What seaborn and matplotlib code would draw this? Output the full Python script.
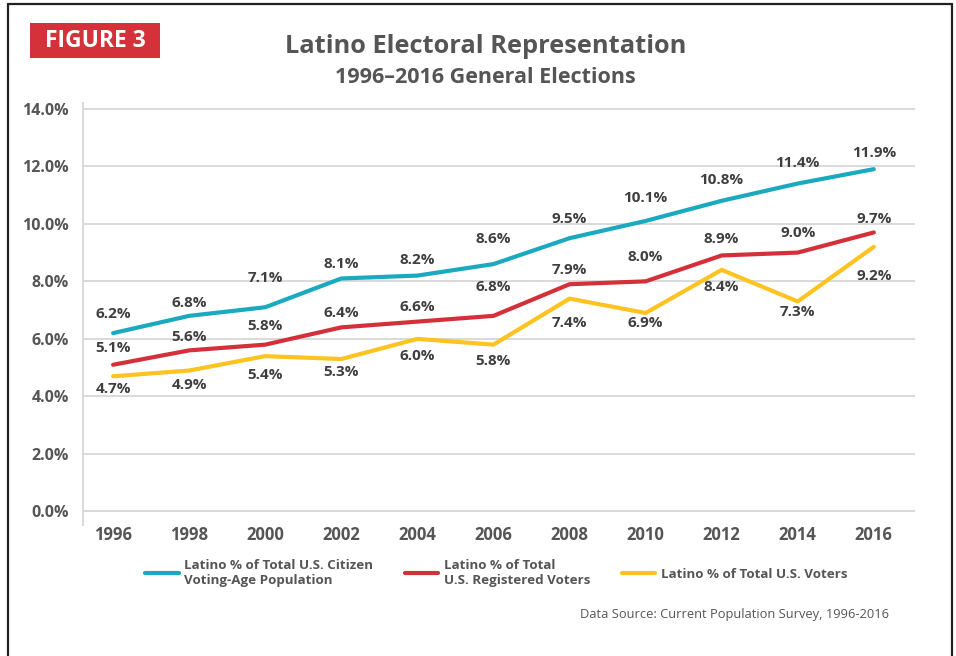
"""Latino electoral representation, 1996-2016 general elections."""

import matplotlib.pyplot as plt
import numpy as np
import pandas as pd
import seaborn as sns
from matplotlib.lines import Line2D
from matplotlib.patches import Rectangle

years = [1996, 1998, 2000, 2002, 2004, 2006, 2008, 2010, 2012, 2014, 2016]
cvap = [6.2, 6.8, 7.1, 8.1, 8.2, 8.6, 9.5, 10.1, 10.8, 11.4, 11.9]
registered = [5.1, 5.6, 5.8, 6.4, 6.6, 6.8, 7.9, 8.0, 8.9, 9.0, 9.7]
voters = [4.7, 4.9, 5.4, 5.3, 6.0, 5.8, 7.4, 6.9, 8.4, 7.3, 9.2]

series_names = [
    "Latino % of Total U.S. Citizen\nVoting-Age Population",
    "Latino % of Total\nU.S. Registered Voters",
    "Latino % of Total U.S. Voters",
]
y_ticks = [0, 2, 4, 6, 8, 10, 12, 14]

# label placement (pixels, + is above the point)
label_dy = [
    [19, 13, 29, 14, 16, 25, 19, 23, 21, 21, 16],
    [17, 13, 19, 14, 15, 29, 14, 24, 16, 20, 13],
    [-13, -14, -19, -13, -17, -16, -24, -10, -17, -11, -29],
]

colors = ["#1aa9be", "#d3303a", "#fdc320"]
grid_c = "#d9d9d9"
text_c = "#555555"
label_c = "#3e3e3e"

df = pd.DataFrame(
    {
        "year": years * 3,
        "value": cvap + registered + voters,
        "series": np.repeat(series_names, len(years)),
    }
)

sns.set_theme(style="white")
plt.rcParams["font.family"] = ["Open Sans", "DejaVu Sans"]

fig = plt.figure(figsize=(9.56, 6.56), dpi=100)
ax = fig.add_axes([0.0865, 0.1997, 0.8705, 0.6433])

sns.lineplot(
    data=df, x="year", y="value", hue="series", hue_order=series_names,
    palette=colors, linewidth=3.0, ax=ax, legend=False,
)

for vals, dys in zip([cvap, registered, voters], label_dy):
    for x, v, dy in zip(years, vals, dys):
        ax.annotate(
            f"{v:.1f}%", (x, v), xytext=(0, dy), textcoords="offset pixels",
            ha="center", va="center", fontsize=11, fontweight="bold", color=label_c,
        )

ax.set_xlim(1995.2, 2017.08)
ax.set_ylim(-0.47, 14.2)
ax.set_xticks(years)
ax.set_yticks(y_ticks)
ax.set_yticklabels([f"{t:.1f}%" for t in y_ticks])
ax.set_xlabel("")
ax.set_ylabel("")
ax.grid(axis="y", color=grid_c, linewidth=1.4)
ax.grid(axis="x", visible=False)
for side in ["top", "right", "bottom"]:
    ax.spines[side].set_visible(False)
ax.spines["left"].set_color(grid_c)
ax.spines["left"].set_linewidth(1.4)
ax.tick_params(axis="y", length=6.5, width=1.4, color=grid_c, pad=3.5,
               labelsize=11.5, labelcolor=text_c)
ax.tick_params(axis="x", length=0, pad=1, labelsize=12, labelcolor=text_c)
for lab in ax.get_yticklabels() + ax.get_xticklabels():
    lab.set_fontweight("bold")

handles = [Line2D([0], [0], color=c, linewidth=3.0) for c in colors]
fig.legend(
    handles, series_names, loc="center", bbox_to_anchor=(0.519, 0.127), ncol=3,
    frameon=False, handlelength=2.5, handletextpad=0.4, columnspacing=2.4,
    prop={"size": 9.6, "weight": "bold"}, labelcolor=text_c,
)

# titles and badge
fig.text(0.508, 0.929, "Latino Electoral Representation", ha="center", va="center",
         fontsize=18.3, fontweight="bold", color=text_c)
fig.text(0.508, 0.882, "1996\u20132016 General Elections", ha="center", va="center",
         fontsize=15.5, fontweight="bold", color=text_c)
fig.patches.append(Rectangle((0.0314, 0.9116), 0.136, 0.0534, transform=fig.transFigure,
                             facecolor="#d4313b", edgecolor="none"))
fig.text(0.0994, 0.937, "FIGURE 3", ha="center", va="center", fontsize=16.5,
         fontweight="bold", color="white")
fig.text(0.930, 0.064, "Data Source: Current Population Survey, 1996-2016", ha="right",
         va="center", fontsize=9.3, color=text_c)

# page border (left, top, right)
border = dict(color="#222222", linewidth=1.6, transform=fig.transFigure)
fig.lines.append(Line2D([0.0084, 0.0084], [0.0, 0.994], **border))
fig.lines.append(Line2D([0.0084, 0.9958], [0.994, 0.994], **border))
fig.lines.append(Line2D([0.9958, 0.9958], [0.0, 0.994], **border))

fig.savefig("out.png", dpi=100)
